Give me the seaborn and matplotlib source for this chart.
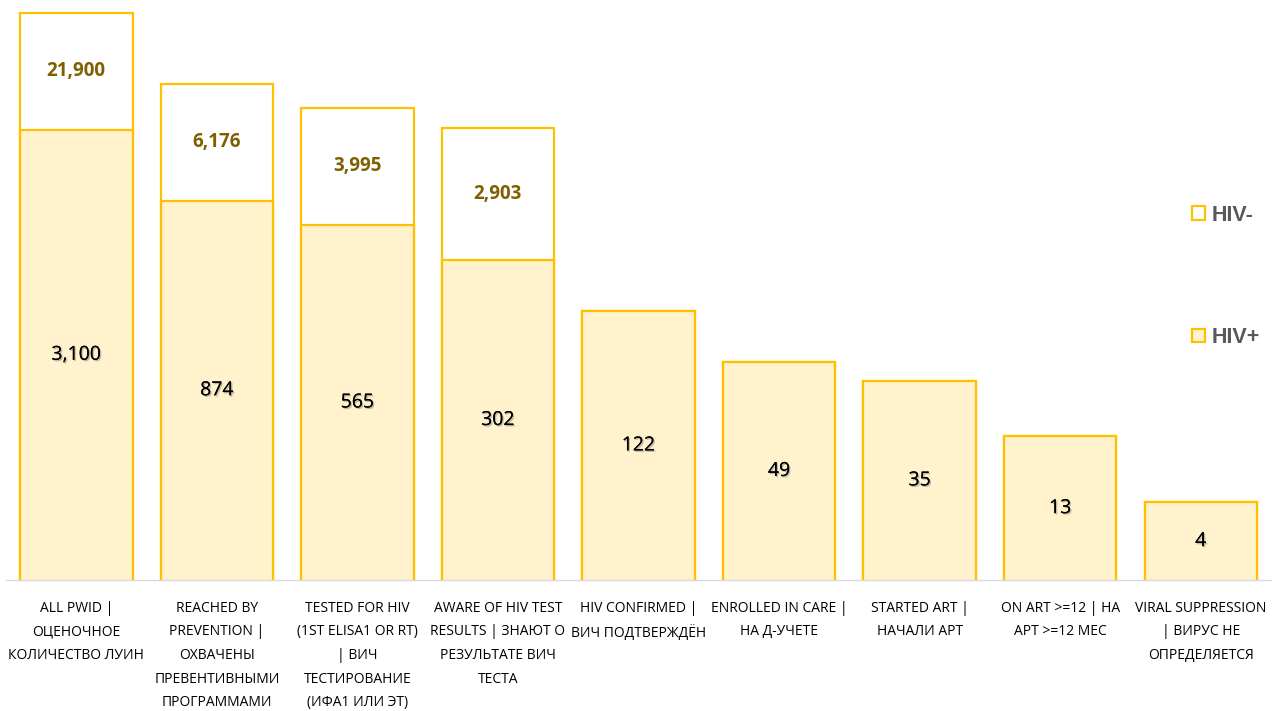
import numpy as np
import pandas as pd
import matplotlib
matplotlib.use("Agg")
import matplotlib.pyplot as plt
import matplotlib.patheffects as pe
from matplotlib.patches import Patch
import seaborn as sns

# Cascade stages (bilingual labels)
stages = [
    "ALL PWID |\nОЦЕНОЧНОЕ\nКОЛИЧЕСТВО ЛУИН",
    "REACHED BY\nPREVENTION |\nОХВАЧЕНЫ\nПРЕВЕНТИВНЫМИ\nПРОГРАММАМИ",
    "TESTED FOR HIV\n(1ST ELISA1 OR RT)\n| ВИЧ\nТЕСТИРОВАНИЕ\n(ИФА1 ИЛИ ЭТ)",
    "AWARE OF HIV TEST\nRESULTS | ЗНАЮТ О\nРЕЗУЛЬТАТЕ ВИЧ\nТЕСТА",
    "HIV CONFIRMED |\nВИЧ ПОДТВЕРЖДЁН",
    "ENROLLED IN CARE |\nНА Д-УЧЕТЕ",
    "STARTED ART |\nНАЧАЛИ АРТ",
    "ON ART >=12 | НА\nАРТ >=12 МЕС",
    "VIRAL SUPPRESSION\n| ВИРУС НЕ\nОПРЕДЕЛЯЕТСЯ",
]
hiv_pos = [3100, 874, 565, 302, 122, 49, 35, 13, 4]
hiv_neg = [21900, 6176, 3995, 2903, 0, 0, 0, 0, 0]

EDGE = "#FFC000"
FILL_POS = "#FFF2CC"

df = pd.DataFrame({
    "idx": np.arange(len(stages)),
    "pos": hiv_pos,
    "neg": hiv_neg,
})
df["total"] = df["pos"] + df["neg"]

sns.set_theme(style="white")
plt.rcParams["font.family"] = ["Open Sans", "DejaVu Sans"]

fig = plt.figure(figsize=(12.79, 7.11), dpi=100)
ax = fig.add_axes([6 / 1279, 131 / 711, 1265 / 1279, 580 / 711])
ax.set_yscale("log")

# full-height (HIV-) bars first, HIV+ bars drawn over them
sns.barplot(data=df, x="idx", y="total", color="white", saturation=1,
            edgecolor=EDGE, linewidth=1.6, width=0.8, ax=ax)
sns.barplot(data=df, x="idx", y="pos", color=FILL_POS, saturation=1,
            edgecolor=EDGE, linewidth=1.6, width=0.8, ax=ax)

ax.set_ylim(1, 10 ** (580 / 129))
ax.set_xlim(-0.5, len(stages) - 0.5)
ax.set_yticks([])
ax.yaxis.set_minor_locator(matplotlib.ticker.NullLocator())
ax.set_xlabel("")
ax.set_ylabel("")
for s in ["top", "right", "left"]:
    ax.spines[s].set_visible(False)
ax.spines["bottom"].set_color("#D9D9D9")
ax.spines["bottom"].set_linewidth(1.0)

ax.set_xticks(range(len(stages)))
ax.set_xticklabels(stages, fontsize=10, color="#000000", linespacing=1.78,
                   va="top")
ax.tick_params(axis="x", length=0, pad=15)

shadow = [pe.withSimplePatchShadow(offset=(1, -1), shadow_rgbFace="#7F7F7F",
                                   alpha=0.5), pe.Normal()]
for i, (p, n) in enumerate(zip(hiv_pos, hiv_neg)):
    ax.text(i, np.sqrt(p), f"{p:,}", ha="center", va="center",
            fontsize=14, color="#000000", path_effects=shadow)
    if n > 0:
        ax.text(i, np.sqrt(p * (p + n)), f"{n:,}", ha="center", va="center",
                fontsize=13.5, fontweight="bold", color="#7F6000")

handles = [
    Patch(facecolor="white", edgecolor=EDGE, linewidth=1.6, label="HIV-"),
    Patch(facecolor=FILL_POS, edgecolor=EDGE, linewidth=1.6, label="HIV+"),
]
fig.legend(handles=handles, loc="upper left",
           bbox_to_anchor=(1181 / 1279, 1 - 194 / 711),
           frameon=False, borderpad=0, handlelength=0.6, handleheight=0.6,
           handletextpad=0.3, labelspacing=4.7,
           prop={"family": "Liberation Sans", "weight": "bold", "size": 15.5},
           labelcolor="#595959")

fig.savefig("out.png", dpi=100)
